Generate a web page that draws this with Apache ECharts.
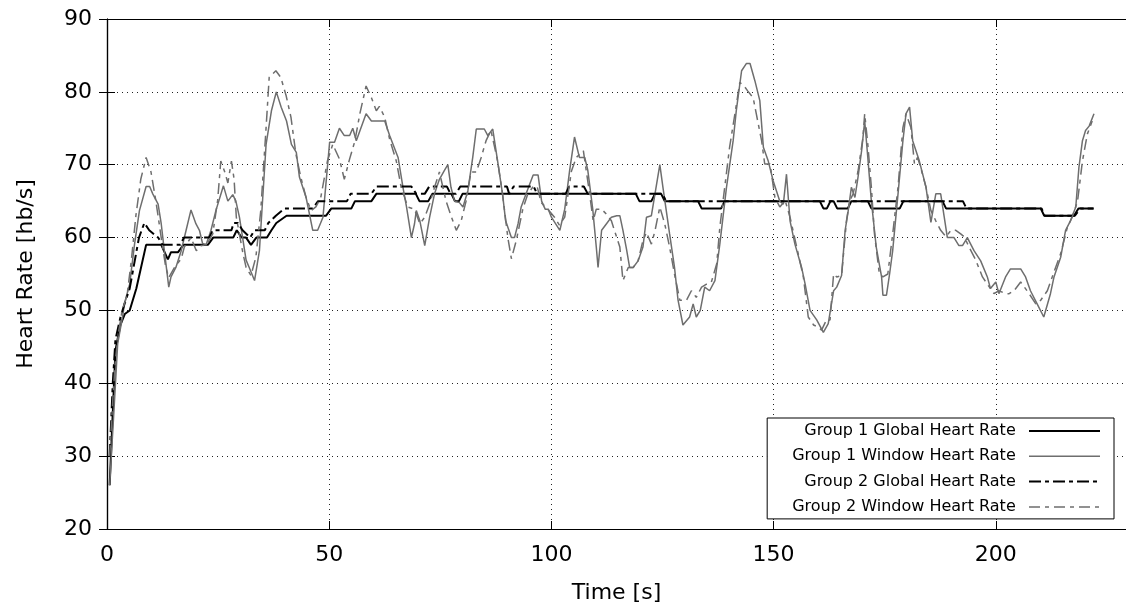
<!DOCTYPE html>
<html>
<head>
<meta charset="utf-8">
<script src="https://cdn.jsdelivr.net/npm/echarts@6/dist/echarts.min.js"></script>
<style>
html,body{margin:0;padding:0;background:#fff;}
#chart{width:1126px;height:604px;}
</style>
</head>
<body>
<div id="chart"></div>
<script>
// ---- data (time [s], heart rate [hb/s]) ----
const seriesNames = ['Group 1 Global Heart Rate','Group 1 Window Heart Rate','Group 2 Global Heart Rate','Group 2 Window Heart Rate'];
const xTicks = [0, 50, 100, 150, 200];
const yTicks = [20, 30, 40, 50, 60, 70, 80, 90];

const g1Global = [[0.6,26],[1.9,44.5],[3,48],[4,49.5],[5.1,50],[6.6,53],[8.8,59],[12.2,59],[13.7,57],[14.4,58],[16,58],[17.2,59],[22.7,59],[23.9,60],[28.4,60],[29.2,61],[30.3,60],[31.3,60],[32.4,59],[33.6,60],[36,60],[37,61],[38.1,62],[40.4,63],[49.3,63],[50.5,64],[55,64],[55.8,65],[59.5,65],[60.6,66],[69.5,66],[70.3,65],[72.3,65],[73.2,66],[77.5,66],[78.3,65],[79.2,65],[80,66],[119,66],[119.8,65],[122.5,65],[123.3,66],[124.7,66],[125.5,65],[133,65],[133.8,64],[138.2,64],[139,65],[160.4,65],[161.2,64],[162,64],[162.8,65],[163.5,65],[164.3,64],[166.7,64],[167.5,65],[171.2,65],[172,64],[178.4,64],[179.2,65],[188,65],[188.8,64],[210.1,64],[210.9,63],[217.6,63],[218.6,64],[222,64]];

const g1Window = [[0.6,26],[1.7,37.7],[2.4,45.4],[3.6,49.5],[3.9,50.9],[5.1,53.6],[6.2,59.1],[7.3,63.7],[8.8,67],[9.6,67],[10.3,66],[11.5,64.6],[12.2,61.9],[12.9,58.2],[13.9,53.2],[14.4,54.6],[15.5,55.9],[16.7,58.2],[17.8,61],[18.9,63.8],[20,61.9],[20.8,61],[21.5,59.2],[22.3,59],[23.4,61],[24.5,63.7],[26.2,67.1],[27.2,65],[28.3,65.9],[29,65],[29.8,62.8],[31.3,56.9],[32,55.9],[33.2,54.1],[34.3,58.2],[35.8,72.8],[37,77.4],[38.1,80],[39.2,77.9],[40.4,76],[41.5,72.8],[42.6,71.7],[43.3,68.3],[44.8,65.5],[46.3,61],[47.4,61],[48.6,62.8],[50.1,73.1],[51.2,73.1],[52.3,75],[53.4,74],[54.6,74],[55.3,75],[56.1,73.3],[58.3,77],[59.5,76],[62.5,76],[63.6,74],[65.5,71],[66.6,66.9],[67.4,64.2],[68.5,60],[69.2,61.9],[69.6,63.7],[70.4,62.3],[71.5,58.9],[72.6,62.8],[73.7,66],[74.8,68],[75.9,69.2],[76.7,70],[77.4,66.9],[78.2,65],[79.3,64.8],[80.1,64.2],[81.2,66.4],[82.3,71],[83.1,74.9],[84.9,74.9],[85.7,74],[86.8,74.9],[87.9,70.5],[89,66],[89.7,62.3],[91,60],[91.7,60],[92.5,61.9],[93.2,64.2],[94.3,66],[95.9,68.6],[97,68.6],[97.8,65],[98.6,63.9],[99.3,63.9],[100,62.8],[101.9,61],[103,63.9],[104.1,69.2],[105.2,73.8],[106.3,71],[107.5,71],[108.2,69.2],[109.3,63.9],[110.1,58.7],[110.5,55.9],[111.3,61],[112.4,61.9],[113.5,62.8],[114.7,63],[115.4,63],[116.1,61],[116.9,58.4],[117.6,55.9],[118.4,55.9],[119.5,56.8],[120.6,58.7],[121.4,62.8],[122.5,63],[124.4,70],[125.1,66.9],[126.6,60.5],[127.7,55.9],[128.5,51.4],[129.6,48],[131.1,49.1],[131.9,50.9],[132.6,49.1],[133.5,50],[134.5,53.2],[135.6,52.7],[136.8,54.1],[137.9,59.1],[139.4,66.9],[140.9,73.3],[141.6,77.4],[142.8,82.9],[143.9,83.9],[144.7,83.9],[145.8,81.5],[146.9,78.8],[147.7,72.4],[148.8,70.5],[149.9,67.8],[151.4,65],[152.2,64.6],[152.9,68.7],[153.7,62.3],[154.8,59.1],[156.3,55.9],[157.1,53.6],[158.2,50],[159.7,48.7],[161.2,47],[162.3,48.2],[163.5,52.7],[164.2,53.2],[165.3,54.8],[166.1,61],[166.8,63.7],[167.5,66.9],[168.3,65.5],[169,68.3],[169.8,71.9],[170.5,76],[171.2,71],[172,65],[173.1,58.7],[174.3,54.6],[174.6,52.1],[175.4,52.1],[176.1,55],[176.8,58.2],[178,66],[179.1,73.3],[179.8,77],[180.6,77.9],[181.3,73.3],[182.8,70.5],[184.3,66.9],[185.4,62.1],[186.5,66],[187.6,66],[188.4,62.8],[189.1,60],[190.6,60],[191.7,58.9],[192.5,58.9],[193.6,60],[195.1,58.2],[196.6,56.8],[198.1,54.6],[198.8,53],[200,53.9],[200.7,52.3],[202.2,54.6],[203.3,55.7],[205.6,55.7],[206.7,54.6],[207.8,52.7],[209.3,50.9],[210.8,49.1],[212.3,52.3],[213.1,54.6],[214.6,57.3],[215.7,61],[216.8,62.3],[218,64.2],[218.7,69.6],[219.5,73.3],[220.2,74.7],[221,75.3],[222.1,77]];

const g2Global = [[0.6,30],[1.3,40],[1.9,46],[3,49],[4,51],[5.1,53],[6,56],[7.2,60],[8.4,62],[9.5,61],[10.5,60.5],[11.5,60],[12.5,59],[16.5,59],[17.3,60],[23,60],[23.8,61],[28,61],[28.5,62],[29.5,62],[30.5,61],[32.2,60],[33.2,61],[35.5,61],[36.3,62],[38,63],[40,64],[46.3,64],[47.5,65],[54,65],[54.8,66],[59.5,66],[60.6,67],[68.5,67],[69.6,66],[71.5,66],[72.5,67],[76.5,67],[77.3,66],[78.5,66],[79.5,67],[90,67],[90.5,66],[91.5,67],[96,67],[96.8,66],[103.2,66],[104,67],[107.3,67],[108.2,66],[125,66],[125.8,65],[192.6,65],[193.4,64],[210.3,64],[211,63],[217.8,63],[219,64],[222,64]];

const g2Window = [[0.6,30],[1.3,37.7],[1.9,43.2],[2.6,47],[3.4,50],[4.5,52],[5.5,57],[6.5,63],[7.6,68],[8.8,71],[9.9,69],[11,65],[12.2,60],[13.2,56],[13.9,54.5],[15.2,55.9],[16.7,57.1],[17.4,58.7],[18.9,60],[20.1,58.2],[21.2,58.9],[22.4,59],[23.8,60.5],[24.9,65.1],[25.6,70.5],[26.5,69],[27.2,67.5],[28,70.5],[28.6,68],[29.1,62.8],[30.6,57.8],[31.3,55.9],[32.4,54.8],[33.5,57.3],[34.6,63.7],[35.8,75.1],[36.5,82],[38,82.9],[39.1,82],[40.3,79.5],[41.4,76.5],[42.5,71.5],[43.6,68.3],[44.8,65.5],[45.9,63.7],[47,64.2],[48.1,65.5],[49.6,70.5],[50.8,72.8],[52.3,70.8],[53.4,68],[54.6,70.8],[55.8,73.3],[56.9,77],[58.3,80.8],[59.5,79.2],[60.6,77.4],[61.3,78],[62.5,76.5],[63.6,73.5],[65.1,70.5],[66.2,66.9],[67.7,64.2],[69.2,63.9],[70.4,61.9],[71.5,62.8],[72.6,64.6],[73.7,66.9],[74.8,69],[76.3,65],[77.4,63],[78.6,61],[79.7,62.3],[80.8,65],[81.9,69],[83.1,69],[84.2,71],[85.3,73.3],[86.4,74.7],[87.9,70.5],[89,66],[90.2,60],[91,57.1],[92.1,59.6],[93.6,64],[94.7,66],[95.9,67],[96.8,67],[97.7,64.8],[99.2,63.9],[100.7,62.8],[101.8,61.7],[103,62.8],[104.5,69.1],[105.6,71],[107.2,71.9],[108.6,66],[109.4,62.3],[110.1,63.9],[111.3,63.9],[112.4,63.2],[113.5,62.3],[115.4,58.7],[116.1,54.1],[117.3,55.9],[118.4,55.9],[119.5,56.8],[120.6,59.6],[121.4,60.7],[122.5,59.1],[123.3,60.9],[124.4,64.2],[125.5,61.9],[126.6,58.7],[127.7,55],[128.9,51.4],[130.4,51.4],[131.5,52.7],[132.6,51.8],[133.8,53.2],[134.9,53.6],[136,53.9],[137.2,56.4],[137.9,61.4],[139,66.9],[140.1,72.4],[141.3,77],[142.4,81.3],[143.5,80.7],[144.2,80.1],[145.4,79.2],[146.1,77],[147.3,73.3],[148,70.1],[149.2,70.1],[150.3,65.5],[151.4,64.2],[152.6,65.1],[153.7,62.8],[155.2,58.7],[156.7,54.6],[157.8,49.1],[159,48],[160.1,47.7],[160.8,47.3],[161.9,48.7],[162.7,48.7],[163.5,55],[164.2,54.6],[165.3,54.8],[166.4,62.3],[167.1,65],[167.9,66],[169,69.1],[170.1,73.7],[170.5,77],[171.2,72.8],[172,66.9],[172.7,60.5],[173.8,55],[174.6,54.6],[175.7,55],[176.8,60.5],[178,66.9],[179.1,75.1],[179.8,77],[180.9,75.1],[181.7,70.1],[182.4,71],[183.1,69.6],[184.3,66.9],[185.4,63.7],[186.5,62.3],[187.6,61],[188.8,60.1],[189.9,61],[191,61],[192.1,60.5],[192.9,60.1],[194,58.7],[195.5,56.9],[197,54.6],[198.1,53.6],[199.6,52.3],[200.7,52.7],[202.2,52.3],[203,52.3],[204.1,52.7],[205.6,53.9],[207.5,52.3],[209,50.9],[210.1,51.4],[211.6,52.7],[212.7,54.6],[214.6,57.8],[216.1,61.4],[217.2,62.8],[218.4,65],[219.5,70.5],[220.6,74.2],[221.7,76]];

// ---- chart ----
const FONT = 'DejaVu Sans';
const GRAY = '#6e6e6e';
const chart = echarts.init(document.getElementById('chart'), null, {renderer: 'canvas'});

const gridLine = {show: true, lineStyle: {color: '#222', width: 1, type: [1, 4]}};
const tickIn = {show: true, inside: true, length: 8, lineStyle: {color: '#000', width: 1}};

const styles = [
  {color: '#000', width: 2, type: 'solid'},
  {color: GRAY, width: 1.5, type: 'solid'},
  {color: '#000', width: 2, type: [12, 4, 4, 4]},
  {color: GRAY, width: 1.5, type: [11, 5, 4, 5]}
];
const dataSets = [g1Global, g1Window, g2Global, g2Window];
const hiddenSymbol = {color: 'rgba(0,0,0,0)', borderColor: 'rgba(0,0,0,0)', borderWidth: 0, opacity: 0};

chart.setOption({
  animation: false,
  backgroundColor: '#fff',
  textStyle: {fontFamily: FONT},
  grid: {left: 107, right: 0, top: 19, bottom: 75, containLabel: false, outerBoundsMode: 'none'},
  xAxis: [
    {
      type: 'value', min: 0, max: 229.3, interval: 50,
      name: 'Time [s]', nameLocation: 'middle', nameGap: 53,
      nameTextStyle: {fontFamily: FONT, fontSize: 22, color: '#000'},
      axisLine: {show: true, onZero: false, lineStyle: {color: '#000', width: 1.2}},
      axisTick: tickIn,
      axisLabel: {show: true, margin: 15, fontFamily: FONT, fontSize: 22, color: '#000', showMaxLabel: false,
        formatter: v => xTicks.indexOf(v) >= 0 ? String(v) : ''},
      splitLine: gridLine
    },
    {
      type: 'value', min: 0, max: 229.3, interval: 50, position: 'top',
      axisLine: {show: true, lineStyle: {color: '#000', width: 1.2}},
      axisTick: tickIn, axisLabel: {show: false}, splitLine: {show: false}
    }
  ],
  yAxis: [
    {
      type: 'value', min: 20, max: 90, interval: 10,
      name: 'Heart Rate [hb/s]', nameLocation: 'middle', nameGap: 70,
      nameTextStyle: {fontFamily: FONT, fontSize: 22, color: '#000'},
      axisLine: {show: true, onZero: false, lineStyle: {color: '#000', width: 1.2}},
      axisTick: tickIn,
      axisLabel: {show: true, margin: 15, fontFamily: FONT, fontSize: 22, color: '#000',
        formatter: v => yTicks.indexOf(v) >= 0 ? String(v) : ''},
      splitLine: gridLine
    },
    {
      type: 'value', min: 20, max: 90, interval: 10, position: 'right',
      axisLine: {show: true, lineStyle: {color: '#000', width: 1.2}},
      axisTick: tickIn, axisLabel: {show: false}, splitLine: {show: false}
    }
  ],
  legend: {
    show: true,
    orient: 'vertical',
    align: 'right',
    right: 12,
    top: 418,
    itemWidth: 71,
    itemHeight: 16,
    itemGap: 9.3,
    padding: [5, 13, 4, 25],
    borderColor: '#000',
    borderWidth: 1,
    backgroundColor: '#fff',
    formatter: n => n + ' \u2009',
    textStyle: {fontFamily: FONT, fontSize: 16, color: '#000'},
    itemStyle: hiddenSymbol,
    data: seriesNames.map((n, i) => ({
      name: n,
      itemStyle: hiddenSymbol,
      lineStyle: {width: styles[i].width, type: styles[i].type, color: styles[i].color}
    }))
  },
  series: seriesNames.map((n, i) => ({
    name: n,
    type: 'line',
    xAxisIndex: 0,
    yAxisIndex: 0,
    showSymbol: false,
    symbol: 'none',
    data: dataSets[i],
    lineStyle: styles[i],
    itemStyle: {color: styles[i].color},
    emphasis: {disabled: true},
    z: 2 + i
  }))
});
</script>
</body>
</html>
